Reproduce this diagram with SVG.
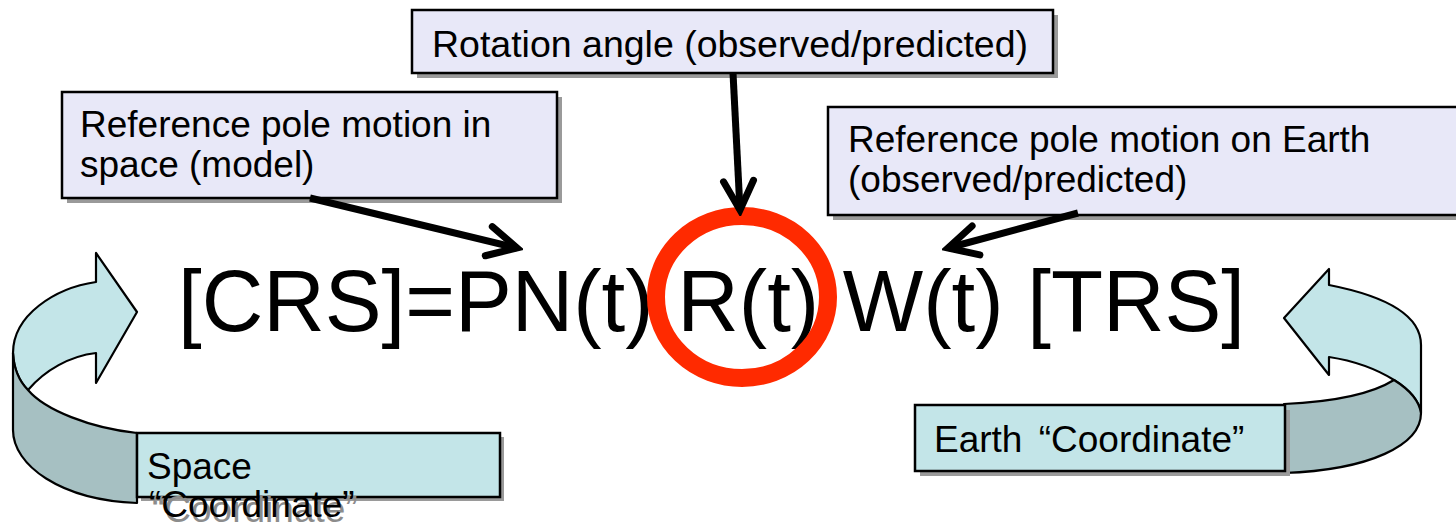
<svg xmlns="http://www.w3.org/2000/svg" width="1456" height="527" viewBox="0 0 1456 527">
<defs>
<style>
.lbl{font-family:"Liberation Sans",Arial,"Noto Sans CJK SC",sans-serif;font-size:37px;fill:#000}
.callout{fill:#E8E8F8;stroke:#000;stroke-width:2.5}
.shadow{fill:#9a9a9a}
.cbox{fill:#C3E5E8;stroke:#000;stroke-width:2.5}
.light{fill:#C3E5E8;stroke:#000;stroke-width:2.2;stroke-linejoin:round}
.dark{fill:#A6C0C2;stroke:#000;stroke-width:2.2;stroke-linejoin:round}
.conn{stroke:#000;stroke-width:7;fill:none;stroke-linecap:butt}
.formula{font-family:"Liberation Sans",Arial,sans-serif;font-size:87px;fill:#000}
</style>
<marker id="vhead" markerUnits="userSpaceOnUse" viewBox="-40 -22 46 44" refX="0" refY="0" markerWidth="46" markerHeight="44" orient="auto">
<path d="M-29,-15 L0,0 L-29,15" fill="none" stroke="#000" stroke-width="7" stroke-linecap="round" stroke-linejoin="miter"/>
</marker>
</defs>
<rect width="1456" height="527" fill="#fff"/>

<g id="formula">
<text class="formula" x="178" y="331" textLength="1067" lengthAdjust="spacingAndGlyphs">[CRS]=PN(t) R(t) W(t) [TRS]</text>
</g>

<g id="highlight">
<ellipse cx="742" cy="297" rx="86" ry="81" fill="none" stroke="#FF2A00" stroke-width="18"/>
</g>

<g id="rotation-box">
<rect class="shadow" x="417" y="15" width="641" height="63"/>
<rect class="callout" x="412" y="10" width="641" height="63"/>
<text class="lbl" x="432" y="57" textLength="596" lengthAdjust="spacingAndGlyphs">Rotation angle (observed/predicted)</text>
</g>

<g id="space-pole-box">
<rect class="shadow" x="67" y="97" width="495" height="106"/>
<rect class="callout" x="62" y="92" width="495" height="106"/>
<text class="lbl" x="80" y="137">Reference pole motion in</text>
<text class="lbl" x="80" y="177">space (model)</text>
</g>

<g id="earth-pole-box">
<rect class="shadow" x="833" y="112" width="640" height="108"/>
<rect class="callout" x="828" y="107" width="640" height="108"/>
<text class="lbl" x="848" y="152">Reference pole motion on Earth</text>
<text class="lbl" x="848" y="192">(observed/predicted)</text>
</g>

<g id="space-coordinate">
<path class="light" d="M137,312 L96,253 L96,282 C55,288 13,315 13,353 C14,372 20,382 28,390 C45,370 70,356 96,353 L96,383 Z"/>
<path class="dark" d="M28,390 C45,410 90,428 137,433 L137,503 C60,500 13,465 13,430 L13,353 C14,372 20,382 28,390 Z"/>
<rect class="shadow" x="141" y="437" width="363" height="64"/>
<rect class="cbox" x="137" y="433" width="363" height="64"/>
<text class="lbl" x="147" y="479">Space</text>
<text class="lbl" x="152" y="522" style="fill:#8c8c8c">“Coordinate”</text>
<text class="lbl" x="149" y="517">“Coordinate”</text>
</g>

<g id="earth-coordinate">
<path class="light" d="M1284,318 L1329,269 L1329,285 C1385,296 1421,315 1421,345 L1421,413 C1419,400 1410,390 1394,380 C1378,370 1355,361 1329,357 L1329,375 Z"/>
<path class="dark" d="M1284,404 C1330,402 1370,395 1394,380 C1410,390 1419,400 1421,413 C1421,445 1370,470 1284,473 Z"/>
<rect class="shadow" x="920" y="410" width="370" height="66"/>
<rect class="cbox" x="915" y="405" width="370" height="66"/>
<text class="lbl" x="934" y="452">Earth <tspan dx="6">“</tspan>Coordinate”</text>
</g>

<g id="connectors">
<line class="conn" x1="310" y1="198" x2="517" y2="248" marker-end="url(#vhead)"/>
<line class="conn" x1="733" y1="73" x2="740" y2="210" marker-end="url(#vhead)"/>
<line class="conn" x1="1078" y1="213" x2="948" y2="248" marker-end="url(#vhead)"/>
</g>
</svg>
